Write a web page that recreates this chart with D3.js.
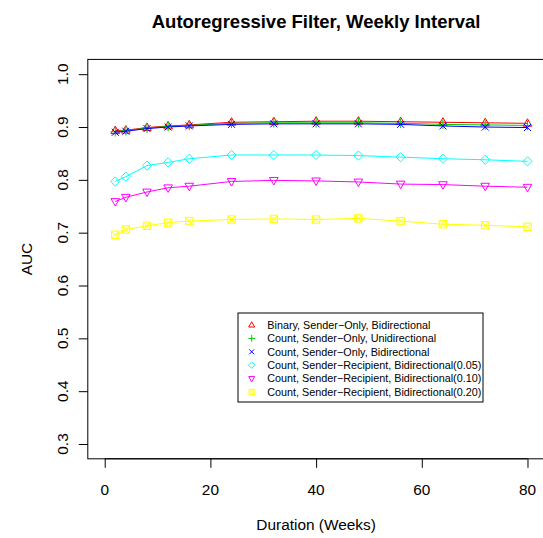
<!DOCTYPE html>
<html lang="en">
<head>
<meta charset="UTF-8">
<style>
    body { margin: 0; background: #fff; }
    svg { display: block; font-family: "Liberation Sans", Arial, sans-serif; }
</style>
</head>
<body>
<script src="https://d3js.org/d3.v7.min.js"></script>
<script>
// data
var weeks = [2, 4, 8, 12, 16, 24, 32, 40, 48, 56, 64, 72, 80];
var binarySenderBi   = [0.893, 0.894, 0.899, 0.902, 0.904, 0.909, 0.910, 0.911, 0.911, 0.910, 0.909, 0.908, 0.907];
var countSenderUni   = [0.891, 0.893, 0.898, 0.901, 0.903, 0.907, 0.908, 0.908, 0.908, 0.907, 0.905, 0.904, 0.903];
var countSenderBi    = [0.890, 0.892, 0.897, 0.900, 0.902, 0.905, 0.906, 0.906, 0.906, 0.905, 0.902, 0.900, 0.899];
var countRecip05     = [0.797, 0.806, 0.827, 0.833, 0.840, 0.847, 0.847, 0.847, 0.846, 0.843, 0.840, 0.838, 0.835];
var countRecip10     = [0.759, 0.767, 0.777, 0.785, 0.788, 0.797, 0.799, 0.798, 0.796, 0.792, 0.791, 0.788, 0.786];
var countRecip20     = [0.696, 0.706, 0.713, 0.719, 0.722, 0.725, 0.726, 0.725, 0.727, 0.722, 0.716, 0.714, 0.711];

var seriesNames = [
    "Binary, Sender\u2212Only, Bidirectional",
    "Count, Sender\u2212Only, Unidirectional",
    "Count, Sender\u2212Only, Bidirectional",
    "Count, Sender\u2212Recipient, Bidirectional(0.05)",
    "Count, Sender\u2212Recipient, Bidirectional(0.10)",
    "Count, Sender\u2212Recipient, Bidirectional(0.20)"
];
var seriesValues = [binarySenderBi, countSenderUni, countSenderBi, countRecip05, countRecip10, countRecip20];
var colors = ["#ff0000", "#00cd00", "#0000ff", "#00ffff", "#ff00ff", "#ffff00"];
var pchs = [2, 3, 4, 5, 6, 7];

var xTicks = [0, 20, 40, 60, 80];
var yTicks = [0.3, 0.4, 0.5, 0.6, 0.7, 0.8, 0.9, 1.0];

var width = 543, height = 538;
// plot region (window.top is taken, so prefix these)
var pLeft = 87.8, pRight = 544.4, pTop = 59.4, pBottom = 458.8;

var svg = d3.select("body").append("svg")
    .attr("width", width)
    .attr("height", height);

// R style: 4% padding around 0..80 and 0.3..1.0
var x = d3.scaleLinear().domain([-3.2, 83.2]).range([pLeft, pRight]);
var y = d3.scaleLinear().domain([0.272, 1.028]).range([pBottom, pTop]);

// R point symbols, s = scale
function pch(type, s) {
    var p = d3.path();
    if (type == 2) {
        p.moveTo(0, -4.6 * s); p.lineTo(4.3 * s, 2.9 * s); p.lineTo(-4.3 * s, 2.9 * s); p.closePath();
    } else if (type == 6) {
        p.moveTo(0, 4.6 * s); p.lineTo(4.3 * s, -2.9 * s); p.lineTo(-4.3 * s, -2.9 * s); p.closePath();
    } else if (type == 3) {
        p.moveTo(-4.8 * s, 0); p.lineTo(4.8 * s, 0);
        p.moveTo(0, -4.8 * s); p.lineTo(0, 4.8 * s);
    } else if (type == 4) {
        p.moveTo(-3.5 * s, -3.5 * s); p.lineTo(3.5 * s, 3.5 * s);
        p.moveTo(-3.5 * s, 3.5 * s); p.lineTo(3.5 * s, -3.5 * s);
    } else if (type == 5) {
        p.moveTo(0, -4.6 * s); p.lineTo(4.6 * s, 0); p.lineTo(0, 4.6 * s); p.lineTo(-4.6 * s, 0); p.closePath();
    } else if (type == 7) {
        p.rect(-3.7 * s, -3.7 * s, 7.4 * s, 7.4 * s);
        p.moveTo(-3.7 * s, -3.7 * s); p.lineTo(3.7 * s, 3.7 * s);
        p.moveTo(-3.7 * s, 3.7 * s); p.lineTo(3.7 * s, -3.7 * s);
    }
    return p.toString();
}

// axes
var xAxis = svg.append("g")
    .attr("transform", "translate(0," + pBottom + ")")
    .call(d3.axisBottom(x).tickValues(xTicks).tickSize(9).tickFormat(""));
xAxis.select(".domain").remove();
xAxis.selectAll("line").attr("stroke", "#000");

svg.append("line")
    .attr("x1", x(0)).attr("x2", x(80))
    .attr("y1", pBottom).attr("y2", pBottom)
    .attr("stroke", "#000");

svg.selectAll(".xlab")
    .data(xTicks)
    .enter().append("text")
    .attr("class", "xlab")
    .attr("x", function(d) { return x(d); })
    .attr("y", 494.5)
    .attr("text-anchor", "middle")
    .style("font-size", "15.4px")
    .text(function(d) { return d; });

var yAxis = svg.append("g")
    .attr("transform", "translate(" + pLeft + ",0)")
    .call(d3.axisLeft(y).tickValues(yTicks).tickSize(9).tickFormat(""));
yAxis.select(".domain").remove();
yAxis.selectAll("line").attr("stroke", "#000");

svg.selectAll(".ylab")
    .data(yTicks)
    .enter().append("text")
    .attr("class", "ylab")
    .attr("transform", function(d) { return "translate(68," + y(d) + ") rotate(-90)"; })
    .attr("text-anchor", "middle")
    .style("font-size", "15.4px")
    .text(function(d) { return d3.format(".1f")(d); });

// plot box
svg.append("rect")
    .attr("x", pLeft).attr("y", pTop)
    .attr("width", pRight - pLeft).attr("height", pBottom - pTop)
    .attr("fill", "none")
    .attr("stroke", "#000");

// titles
svg.append("text")
    .attr("x", (pLeft + pRight) / 2).attr("y", 28)
    .attr("text-anchor", "middle")
    .style("font-size", "18.5px")
    .style("font-weight", "bold")
    .text("Autoregressive Filter, Weekly Interval");

svg.append("text")
    .attr("x", (pLeft + pRight) / 2).attr("y", 530)
    .attr("text-anchor", "middle")
    .style("font-size", "15.4px")
    .text("Duration (Weeks)");

svg.append("text")
    .attr("transform", "translate(32," + (pTop + pBottom) / 2 + ") rotate(-90)")
    .attr("text-anchor", "middle")
    .style("font-size", "15.4px")
    .text("AUC");

// lines + points
var line = d3.line()
    .x(function(d, i) { return x(weeks[i]); })
    .y(function(d) { return y(d); });

seriesValues.forEach(function(vals, k) {
    var g = svg.append("g");
    g.append("path")
        .datum(vals)
        .attr("d", line)
        .attr("fill", "none")
        .attr("stroke", colors[k])
        .attr("stroke-width", 1);
    g.selectAll("path.pt")
        .data(vals)
        .enter().append("path")
        .attr("class", "pt")
        .attr("transform", function(d, i) { return "translate(" + x(weeks[i]) + "," + y(d) + ")"; })
        .attr("d", pch(pchs[k], 1))
        .attr("fill", "none")
        .attr("stroke", colors[k])
        .attr("stroke-width", 1);
});

// legend
var legend = svg.append("g");
legend.append("rect")
    .attr("x", 238).attr("y", 313)
    .attr("width", 245).attr("height", 89)
    .attr("fill", "#fff")
    .attr("stroke", "#000");

var rows = legend.selectAll(".row")
    .data(seriesNames)
    .enter().append("g")
    .attr("class", "row")
    .attr("transform", function(d, i) { return "translate(0," + (325 + i * 13.4) + ")"; });

rows.append("path")
    .attr("transform", "translate(251.7,0)")
    .attr("d", function(d, i) { return pch(pchs[i], 0.7); })
    .attr("fill", "none")
    .attr("stroke", function(d, i) { return colors[i]; });

rows.append("text")
    .attr("x", 267.3)
    .attr("dy", "0.36em")
    .style("font-size", "10.8px")
    .text(function(d) { return d; });
</script>
</body>
</html>
